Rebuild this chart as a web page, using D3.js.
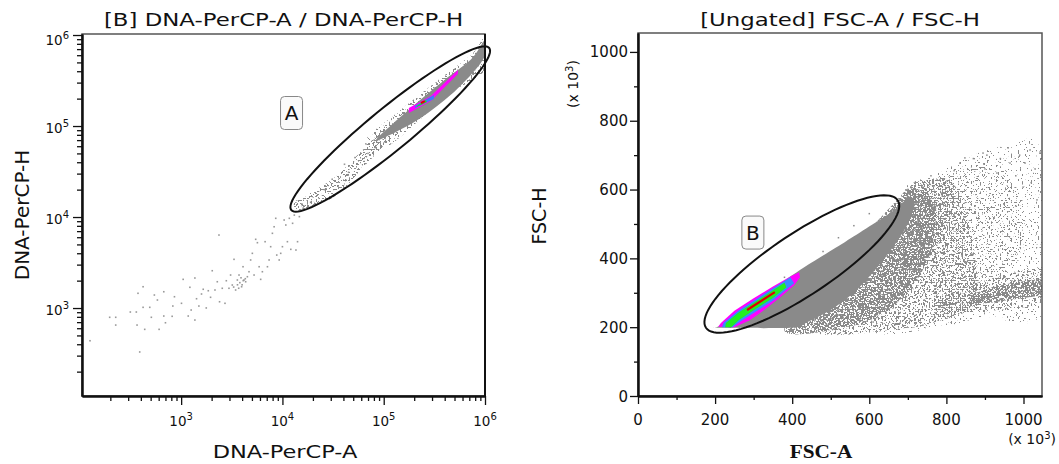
<!DOCTYPE html>
<html><head><meta charset="utf-8">
<script src="https://cdn.jsdelivr.net/npm/d3@7"></script>
<style>
body{margin:0;background:#fff}
svg text{font-family:"DejaVu Sans",Verdana,sans-serif;fill:#111}
</style></head>
<body><svg id="c" width="1059" height="464"></svg>
<script>
// ---------------- DATA ----------------
// Left plot: DNA-PerCP-A (x) vs DNA-PerCP-H (y), log axes
const dnaTicks = [1e3, 1e4, 1e5, 1e6];
const dnaTickExp = ["3", "4", "5", "6"];
const dnaSparse = [[126,437],[390,329],[197,791],[226,791],[226,650],[315,904],[361,904],[421,1714],[375,1452],[367,650],
 [437,583],[421,1018],[490,1018],[508,791],[544,1390],[583,1225],[606,583],[674,1510],[674,817],[700,689],
 [815,811],[828,1052],[859,1331],[1008,1127],[1047,2066],[1175,817],[1220,1690],[1256,951],[1367,2137],[1367,738],
 [1419,1265],[1497,1052],[1589,1426],[1652,1607],[1770,1002],[1854,1549],[1952,1312],[2028,2570],[2158,1578],[2275,1945],
 [2363,6340],[2395,1172],[2547,1648],[2710,1127],[2793,1995],[2966,1648],[3078,2305],[3199,1790],[3327,3428],[3451,1578],
 [3589,2032],[3727,2305],[3954,1714],[4083,2844],[4178,2032],[4335,1945],[4508,2208],[4677,2506],[4855,3373],[5047,3990],
 [5248,2305],[5445,5689],[5662,5224],[5888,2844],[6100,2066],[6339,2506],[6745,5358],[7113,2844],[7386,3373],[7656,4720],
 [7962,6622],[8279,7816],[8590,9680],[8790,3821],[9290,3373],[9620,3990],[10000,4720],[10400,9270],[10800,8170],[11200,5358],
 [11700,9680],[12100,4416],[12600,8530],[13100,10500],[13600,4340],[14100,5358],[14700,10100],
 [3600,1800],[3800,1900],[4000,1800],[4100,2000],[3300,1700],[4300,2100],[3700,1650],[3900,2150],
 [16000,12500],[19000,14500],[26000,20000],[31000,26000],[45000,31000],[52000,45000],[70000,50000],[41000,38000]];
const dnaStripe = [[12900,14300],[22700,20800],[35100,29000],[55300,48000],[93400,83800],[105000,66700],
 [59200,32800],[37500,18800],[23800,13900],[15100,11900]];
const dnaBandHalo = [[66400,70200],[147000,150000],[367000,337000],[728000,603000],[1000000,927000],
 [1000000,412000],[411000,214000],[185000,95100],[93400,54400]];
const dnaBand = [[85000,72000],[185000,158000],[390000,315000],[730000,540000],[1000000,880000],
 [1000000,600000],[780000,400000],[460000,220000],[230000,122000],[110000,78000]];
const dnaMagenta = [[177000,139000],[292000,188000],[540000,373000],[540000,412000],[292000,214000],[177000,158000]];
const dnaBlue = [[203000,158000],[313000,198000],[313000,219000],[203000,166000]];
const dnaGreen = [[212000,162000],[267000,184000],[261000,193000],[212000,166000]];
const dnaRed = [[233000,179000],[255000,188000]];
const gateA = {center:[116000,92700], major:[1100000,720000], minor:[157000,61500]};
const gateALabel = {name:"A", at:[12300,139000]};

// Right plot: FSC-A (x) vs FSC-H (y), linear axes, x 10^3
const fscTicks = [0, 200, 400, 600, 800, 1000];
const fscMinor = [100, 300, 500, 700, 900];
const fscSparse = [[600,198],[800,205],[900,230],[1048,238],[1048,722],[960,728],[880,705],[800,662],[720,612],[690,590]];
const fscSparse2 = [[780,230],[880,262],[950,340],[1000,440],[1000,560],[950,640],[880,665],[800,640],[760,520]];
const fscMedium = [[450,198],[700,198],[780,218],[850,245],[885,300],[875,400],[860,500],[840,585],
 [800,635],[745,625],[700,600]];
const fscMedium2 = [[690,380],[760,410],[800,490],[825,570],[805,628],[750,628],[700,600]];
const fscDense = [[380,198],[560,205],[650,250],[720,330],[760,420],[772,520],[752,590],[700,602],[680,580]];
const fscCluster = [[770,255],[850,243],[950,252],[1048,272],[1048,368],[990,362],[920,342],[850,318],[790,292]];
const fscClusterCore = [[860,268],[920,272],[1000,285],[1048,296],[1048,338],[990,332],[920,316],[870,296]];
const fscCore = [[205,198],[400,198],[440,215],[500,250],[560,300],[610,360],[660,430],[700,500],[718,560],
 [700,582],[690,566],[654,532],[540,450],[420,366],[300,272],[212,204]];
const fscOutliers = [[895,706],[1017,715],[835,677],[965,677],[776,628],[739,607],[931,648],[999,607],[1035,570],
 [905,700],[960,721],[1043,709],[848,692],[783,628],[1004,677],[610,215],[680,212],[739,206],[783,259],[706,221],
 [870,690],[990,700],[1030,660],[940,690],[820,655],[760,640],[1020,620],[980,640],[900,660],
 [480,420],[520,460],[560,495],[600,530],[380,345],[330,300]];
const fscMagenta = [[208,201],[250,200],[290,220],[330,252],[370,288],[405,322],[420,345],[418,360],
 [400,350],[350,318],[300,284],[250,248],[215,212]];
const fscBlue = [[218,200],[245,200],[260,212],[300,241],[350,277],[405,328],[395,345],[350,313],[300,277],[260,248],[222,213]];
const fscGreen = [[226,200],[242,200],[262,221],[300,249],[350,285],[385,316],[380,329],[350,307],[300,271],[260,242],[228,212]];
const fscRed = [[283,250],[355,302]];
const gateB = {center:[425,383.6], major:[673.7,569], minor:[469.8,309.2]};
const gateBLabel = {name:"B", at:[298,475]};

// ---------------- DRAW ----------------
const svg = d3.select("#c");
const defs = svg.append("defs");
// speckle filters: noise thresholded inside the region shape (decorative texture)
function speck(id, thr, seed, freq){
  const f = defs.append("filter").attr("id",id).attr("filterUnits","userSpaceOnUse")
    .attr("x",0).attr("y",0).attr("width",1059).attr("height",464)
    .attr("color-interpolation-filters","sRGB");
  f.append("feTurbulence").attr("type","fractalNoise").attr("baseFrequency",freq||0.55)
    .attr("numOctaves",1).attr("seed",seed).attr("result","n");
  const k=40;
  f.append("feColorMatrix").attr("in","n").attr("type","matrix")
    .attr("values",`0 0 0 0 0.54  0 0 0 0 0.54  0 0 0 0 0.54  ${k} 0 0 0 ${-k*thr}`).attr("result","m");
  f.append("feComposite").attr("in","m").attr("in2","SourceAlpha").attr("operator","in");
}
speck("spS", 0.65, 3);
speck("spS2", 0.64, 11);
speck("spM", 0.56, 5);
speck("spM2", 0.57, 17);
speck("spM3", 0.57, 23);
speck("spD", 0.48, 7);

function addClip(id,x0,y0,x1,y1){
  defs.append("clipPath").attr("id",id).append("rect").attr("x",x0).attr("y",y0).attr("width",x1-x0).attr("height",y1-y0);
}
function gatePath(g, xs, ys){
  const c=[xs(g.center[0]),ys(g.center[1])], p=[xs(g.major[0]),ys(g.major[1])], q=[xs(g.minor[0]),ys(g.minor[1])];
  const pts=d3.range(0,97).map(i=>{const t=i/96*2*Math.PI;
    return [c[0]+Math.cos(t)*(p[0]-c[0])+Math.sin(t)*(q[0]-c[0]), c[1]+Math.cos(t)*(p[1]-c[1])+Math.sin(t)*(q[1]-c[1])];});
  return d3.line()(pts)+"Z";
}
function poly(g, data, xs, ys, fill, curve, filter){
  const p = g.append("path").attr("d", d3.line().x(d=>xs(d[0])).y(d=>ys(d[1])).curve(curve||d3.curveLinearClosed)(data))
   .attr("fill",fill).attr("stroke","none");
  if(filter) p.attr("filter",`url(#${filter})`);
  return p;
}
function gateLabel(g, L, xs, ys){
  const x=xs(L.at[0]), y=ys(L.at[1]);
  g.append("rect").attr("x",x-11).attr("y",y-16.5).attr("width",22).attr("height",33).attr("rx",4)
   .attr("fill","#fafafa").attr("stroke","#888").attr("stroke-width",1);
  g.append("text").attr("x",x).attr("y",y+7).attr("text-anchor","middle").attr("font-size",20).text(L.name);
}
function stretchText(g, txt, x, y, size, sx, weight, family){
  const t=g.append("text").attr("transform",`translate(${x},${y}) scale(${sx},1)`).attr("text-anchor","middle")
   .attr("font-size",size).text(txt);
  if(weight) t.attr("font-weight",weight);
  if(family) t.style("font-family",family);
  return t;
}
function styleAxis(a){ a.select(".domain").attr("stroke","#111").attr("stroke-width",2); a.selectAll(".tick line").attr("stroke","#111").attr("stroke-width",1.3); a.selectAll("text").remove(); }

// ===== Left plot =====
const L = {x0:82, x1:485, y0:34, y1:396};
const xL = d3.scaleLog().domain([105,1e6]).range([L.x0,L.x1]);
const yL = d3.scaleLog().domain([108,1.026e6]).range([L.y1,L.y0]);
addClip("clipL",L.x0,L.y0,L.x1,L.y1);
const gL = svg.append("g");
const dL = gL.append("g").attr("clip-path","url(#clipL)");
dL.selectAll("rect.pt").data(dnaSparse).join("rect").attr("class","pt")
  .attr("x",d=>xL(d[0])-0.8).attr("y",d=>yL(d[1])-0.8).attr("width",1.6).attr("height",1.6).attr("fill","#999");
poly(dL, dnaStripe, xL, yL, "#000", d3.curveCardinalClosed, "spM");
poly(dL, dnaBandHalo, xL, yL, "#000", d3.curveCardinalClosed, "spM2");
poly(dL, dnaBand, xL, yL, "#8a8a8a", d3.curveCardinalClosed);
poly(dL, dnaMagenta, xL, yL, "#ff00ff");
poly(dL, dnaBlue, xL, yL, "#3a7bff");
poly(dL, dnaGreen, xL, yL, "#22dd22");
dL.append("path").attr("d", d3.line().x(d=>xL(d[0])).y(d=>yL(d[1]))(dnaRed)).attr("stroke","#e00000").attr("stroke-width",2).attr("fill","none");
gL.append("rect").attr("x",L.x0).attr("y",L.y0).attr("width",L.x1-L.x0).attr("height",L.y1-L.y0)
  .attr("fill","none").attr("stroke","#555").attr("stroke-width",1.5);
gL.append("line").attr("x1",L.x1).attr("x2",L.x1).attr("y1",L.y0).attr("y2",L.y1).attr("stroke","#111").attr("stroke-width",2);
gL.append("path").attr("d",gatePath(gateA,xL,yL)).attr("fill","none").attr("stroke","#111").attr("stroke-width",2);
gateLabel(gL, gateALabel, xL, yL);
const minorL = [];
for(let e=2;e<6;e++) for(let m=2;m<10;m++) minorL.push(m*Math.pow(10,e));
const minorLx = minorL.filter(v=>v>=105);
const minorLy = minorL.filter(v=>v>=108);
styleAxis(gL.append("g").attr("transform",`translate(0,${L.y1})`)
  .call(d3.axisBottom(xL).tickValues(dnaTicks).tickSize(9).tickSizeOuter(0).tickFormat("")));
styleAxis(gL.append("g").attr("transform",`translate(0,${L.y1})`)
  .call(d3.axisBottom(xL).tickValues(minorLx).tickSize(5).tickSizeOuter(0).tickFormat("")));
styleAxis(gL.append("g").attr("transform",`translate(${L.x0},0)`)
  .call(d3.axisLeft(yL).tickValues(dnaTicks).tickSize(9).tickSizeOuter(0).tickFormat("")));
styleAxis(gL.append("g").attr("transform",`translate(${L.x0},0)`)
  .call(d3.axisLeft(yL).tickValues(minorLy).tickSize(5).tickSizeOuter(0).tickFormat("")));
function powLabel(g, x, y, exp, anchor){
  const t=g.append("text").attr("x",x).attr("y",y).attr("text-anchor",anchor).attr("font-size",13.5);
  t.append("tspan").text("10");
  t.append("tspan").attr("dy",-6).attr("font-size",10).text(exp);
  return t;
}
dnaTicks.forEach((v,i)=>{
  powLabel(gL, xL(v), 426, dnaTickExp[i], "middle");
  powLabel(gL, 69, Math.max(yL(v)+7, 45), dnaTickExp[i], "end");
});
stretchText(gL, "[B] DNA-PerCP-A / DNA-PerCP-H", 283.5, 26, 18, 1.27);
stretchText(gL, "DNA-PerCP-A", 285, 458, 18, 1.25);
gL.append("text").attr("transform","translate(29,215) rotate(-90)").attr("text-anchor","middle").attr("font-size",20).text("DNA-PerCP-H");

// ===== Right plot =====
const R = {x0:638, x1:1042, y0:33, y1:396};
const xR = d3.scaleLinear().domain([0,1048]).range([R.x0,R.x1]);
const yR = d3.scaleLinear().domain([0,1055]).range([R.y1,R.y0]);
addClip("clipR",R.x0,R.y0,R.x1,R.y1);
const gR = svg.append("g");
const dR = gR.append("g").attr("clip-path","url(#clipR)");
const smooth = d3.curveCardinalClosed.tension(0.3);
poly(dR, fscSparse, xR, yR, "#000", smooth, "spS");
poly(dR, fscSparse2, xR, yR, "#000", smooth, "spS2");
poly(dR, fscMedium, xR, yR, "#000", smooth, "spM");
poly(dR, fscMedium2, xR, yR, "#000", smooth, "spM3");
poly(dR, fscCluster, xR, yR, "#000", smooth, "spM2");
poly(dR, fscDense, xR, yR, "#000", smooth, "spD");
poly(dR, fscClusterCore, xR, yR, "#000", smooth, "spD");
poly(dR, fscCore, xR, yR, "#8a8a8a", smooth);
dR.selectAll("rect.pt").data(fscOutliers).join("rect").attr("class","pt")
  .attr("x",d=>xR(d[0])-0.75).attr("y",d=>yR(d[1])-0.75).attr("width",1.5).attr("height",1.5).attr("fill","#8a8a8a");
poly(dR, fscMagenta, xR, yR, "#ff00ff");
poly(dR, fscBlue, xR, yR, "#3a8cff");
poly(dR, fscGreen, xR, yR, "#22ee22");
dR.append("path").attr("d", d3.line().x(d=>xR(d[0])).y(d=>yR(d[1]))(fscRed)).attr("stroke","#e00000").attr("stroke-width",2.2).attr("fill","none");
gR.append("rect").attr("x",R.x0).attr("y",R.y0).attr("width",R.x1-R.x0).attr("height",R.y1-R.y0)
  .attr("fill","none").attr("stroke","#555").attr("stroke-width",1.5);
gR.append("path").attr("d",gatePath(gateB,xR,yR)).attr("fill","none").attr("stroke","#111").attr("stroke-width",2);
gateLabel(gR, gateBLabel, xR, yR);
styleAxis(gR.append("g").attr("transform",`translate(0,${R.y1})`)
  .call(d3.axisBottom(xR).tickValues(fscTicks).tickSize(8).tickSizeOuter(0).tickFormat("")));
styleAxis(gR.append("g").attr("transform",`translate(0,${R.y1})`)
  .call(d3.axisBottom(xR).tickValues(fscMinor).tickSize(4).tickSizeOuter(0).tickFormat("")));
styleAxis(gR.append("g").attr("transform",`translate(${R.x0},0)`)
  .call(d3.axisLeft(yR).tickValues(fscTicks).tickSize(8).tickSizeOuter(0).tickFormat("")));
styleAxis(gR.append("g").attr("transform",`translate(${R.x0},0)`)
  .call(d3.axisLeft(yR).tickValues(fscMinor).tickSize(4).tickSizeOuter(0).tickFormat("")));
fscTicks.forEach(v=>{
  gR.append("text").attr("x",xR(v)).attr("y",425).attr("text-anchor","middle").attr("font-size",15).text(v);
  gR.append("text").attr("x",628).attr("y",yR(v)+5.5).attr("text-anchor","end").attr("font-size",15).text(v);
});
function x10(g, transform, anchor){
  const t=g.append("text").attr("transform",transform).attr("text-anchor",anchor).attr("font-size",14);
  t.append("tspan").text("(x 10");
  t.append("tspan").attr("dy",-5).attr("font-size",10).text("3");
  t.append("tspan").attr("dy",5).text(")");
}
x10(gR, "translate(578,84) rotate(-90)", "middle");
x10(gR, "translate(1056,444)", "end");
stretchText(gR, "[Ungated] FSC-A / FSC-H", 840, 26, 18, 1.27);
stretchText(gR, "FSC-A", 821, 458, 19, 1.12, "bold", "'Liberation Serif','Times New Roman',serif");
gR.append("text").attr("transform","translate(546,216) rotate(-90)").attr("text-anchor","middle").attr("font-size",19).text("FSC-H");
</script></body></html>
